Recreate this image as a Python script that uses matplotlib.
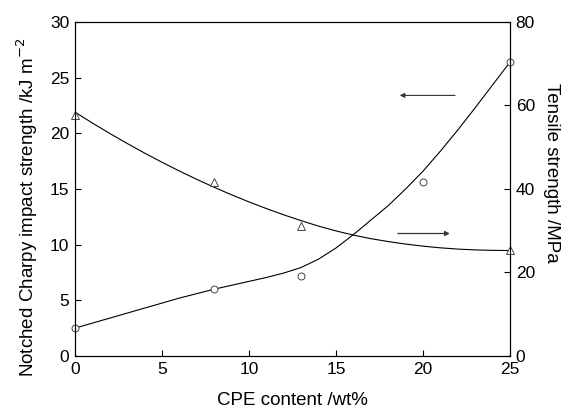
import numpy as np
import matplotlib
matplotlib.use('Agg')
import matplotlib.pyplot as plt

plt.rcParams['font.family'] = ['Liberation Sans', 'DejaVu Sans']

# measured points
cpe = [0, 8, 13, 20, 25]
impacto = [2.5, 6.0, 7.2, 15.6, 26.4]          # kJ m-2 (eje izquierdo)
cpe_t = [0, 8, 13, 25]
traccion = [57.6, 41.6, 31.2, 25.3]            # MPa (eje derecho)

# fitted curves
x_curva = list(range(0, 26))
impacto_curva = [2.5, 2.95, 3.4, 3.85, 4.3, 4.75, 5.2, 5.6, 6.0, 6.35, 6.7, 7.05, 7.45,
                 7.95, 8.7, 9.7, 10.9, 12.2, 13.5, 15.0, 16.6, 18.4, 20.3, 22.3, 24.35, 26.4]
traccion_curva = [58.4, 55.8, 53.3, 50.9, 48.6, 46.4, 44.3, 42.3, 40.4, 38.6, 36.9, 35.3, 33.8,
                  32.4, 31.1, 29.95, 28.95, 28.1, 27.4, 26.8, 26.3, 25.9, 25.6, 25.4, 25.3, 25.25]

fig, ax = plt.subplots(figsize=(5.63, 4.13), dpi=100)
fig.subplots_adjust(left=0.133, right=0.906, bottom=0.138, top=0.947)
ax2 = ax.twinx()

ax.plot(x_curva, impacto_curva, color='black', lw=0.8)
ax.plot(cpe, impacto, 'o', mfc='white', mec='#444444', ms=5, mew=0.7, clip_on=False)
ax2.plot(x_curva, traccion_curva, color='black', lw=0.8)
ax2.plot(cpe_t, traccion, '^', mfc='white', mec='#444444', ms=6, mew=0.7, clip_on=False)

ax.set_xlim(0, 25)
ax.set_ylim(0, 30)
ax2.set_ylim(0, 80)
ax.set_xticks(np.arange(0, 26, 5))
ax.set_yticks(np.arange(0, 31, 5))
ax2.set_yticks(np.arange(0, 81, 20))

fs = 12.5
fl = 13.5
ax.tick_params(direction='in', length=4, labelsize=fs, pad=4, top=False, right=False)
ax2.tick_params(direction='in', length=4, labelsize=fs, pad=4)
ax.set_xlabel('CPE content /wt%', fontsize=fl, labelpad=11)
ax.set_ylabel('Notched Charpy impact strength /kJ m$^{-2}$', fontsize=fl, labelpad=7, y=0.446)
ax2.set_ylabel('Tensile strength /MPa', fontsize=fl, rotation=270, labelpad=18, y=0.548)

# arrows
ax.annotate('', xy=(18.5, 23.4), xytext=(22.0, 23.4),
            arrowprops=dict(arrowstyle='-|>', color='#333333', lw=0.8, mutation_scale=7))
ax.annotate('', xy=(21.7, 11.0), xytext=(18.4, 11.0),
            arrowprops=dict(arrowstyle='-|>', color='#333333', lw=0.9, mutation_scale=7))

plt.savefig('out.png', dpi=100)
